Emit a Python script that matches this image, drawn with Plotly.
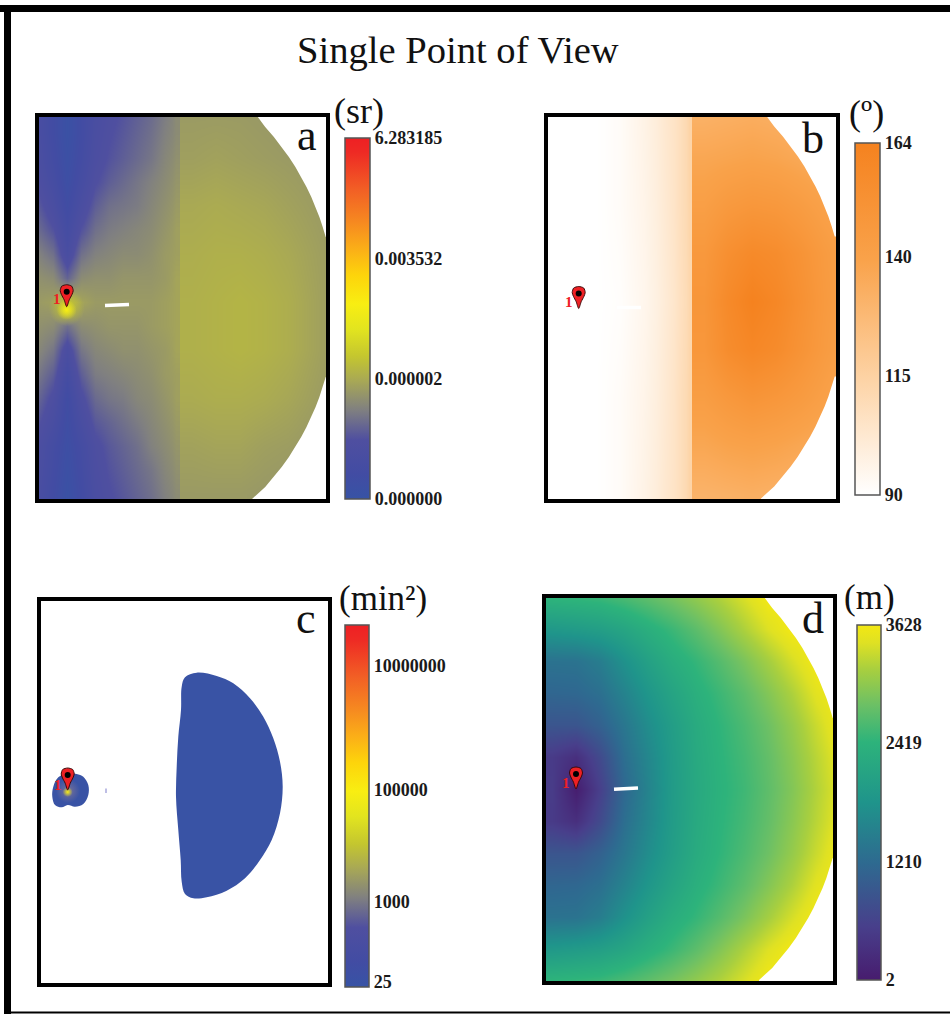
import plotly.graph_objects as go

W, H = 950, 1014
SERIF = "Liberation Serif"

# ---------- data ----------
# a: solid angle, values are % of colour-bar height
a_left_edges = [-7, 7, 21, 35, 49, 63, 77, 91, 105, 119, 133, 141]
a_left_y = [-7, 17, 41, 65, 89, 113, 137, 161, 185, 209, 233, 257, 281, 305, 329, 353, 377, 401]
a_left_z = [
    [12, 7, 2, 7, 12, 15, 17, 19, 21, 24, 27],
    [12, 7, 2, 7, 13, 16, 18, 20, 22, 25, 27],
    [13, 8, 3, 8, 14, 17, 19, 21, 23, 26, 28],
    [15, 10, 4, 10, 16, 19, 21, 23, 25, 27, 29],
    [18, 13, 6, 13, 19, 22, 23, 24, 26, 28, 30],
    [21, 17, 9, 17, 22, 24, 25, 26, 27, 29, 31],
    [25, 22, 12, 22, 25, 26, 27, 27, 28, 30, 31],
    [28, 27, 20, 27, 28, 28, 29, 29, 29, 30, 32],
    [30, 31, 37, 32, 30, 30, 30, 30, 30, 31, 32],
    [28, 27, 22, 27, 28, 29, 29, 29, 30, 31, 32],
    [26, 23, 13, 23, 26, 27, 28, 28, 29, 30, 32],
    [23, 19, 9, 19, 24, 25, 26, 27, 28, 30, 31],
    [20, 15, 6, 15, 21, 23, 24, 26, 27, 29, 31],
    [17, 12, 5, 12, 18, 20, 22, 24, 26, 28, 30],
    [14, 9, 4, 9, 15, 18, 20, 22, 25, 27, 29],
    [13, 8, 3, 8, 14, 17, 19, 21, 23, 26, 28],
    [12, 7, 2, 7, 13, 16, 18, 20, 22, 25, 27],
    [12, 7, 2, 7, 12, 15, 17, 19, 21, 24, 27],
]
a_right_edges = [141, 165, 189, 213, 237, 261, 285, 309]
a_right_y = [-7, 41, 89, 137, 185, 233, 281, 329, 377]
a_right_z = [
    [30, 30, 30, 29.5, 29, 29, 28],
    [31, 31.5, 31, 30.5, 30, 29.5, 29],
    [33, 33.5, 33, 32.5, 31.5, 30.5, 29.5],
    [34, 34.5, 34.5, 34, 33, 31.5, 30],
    [34.5, 35, 35.5, 35, 34, 32, 30],
    [34.5, 35, 35.5, 35, 34, 32, 30],
    [33.5, 34, 34, 33.5, 32.5, 31, 29.5],
    [31.5, 32, 32, 31, 30.5, 29.5, 29],
    [30, 30, 30, 29.5, 29, 29, 28],
]
a_ticks = [0, 33.3, 66.7, 100]
a_ticklabels = ["0.000000", "0.000002", "0.003532", "6.283185"]

# b: angle in degrees
b_left_edges = [-12, 12, 36, 60, 84, 108, 126, 138, 144]
b_left_y = [-7, 89, 185, 281, 389]
b_left_z = [
    [90, 90, 90, 92, 97, 103, 108, 114],
    [90, 90, 90, 92, 96, 102, 108, 113],
    [90, 90, 90, 91, 95, 101, 107, 112],
    [90, 90, 90, 92, 96, 102, 108, 113],
    [90, 90, 90, 92, 97, 103, 108, 114],
]
b_right_edges = [144, 168, 192, 216, 240, 264, 288, 312]
b_right_y = [-7, 41, 89, 137, 185, 233, 281, 329, 377]
b_right_z = [
    [131, 132, 133, 132, 131, 129, 128],
    [137, 138, 139, 138, 136, 134, 132],
    [142, 146, 148, 147, 144, 140, 137],
    [147, 154, 158, 156, 151, 145, 140],
    [149, 158, 164, 160, 153, 146, 141],
    [148, 156, 160, 157, 151, 145, 140],
    [143, 147, 150, 148, 145, 141, 137],
    [137, 139, 140, 139, 137, 135, 132],
    [131, 132, 133, 132, 131, 129, 128],
]
b_ticks = [90, 115, 140, 164]

# c: visible regions outlined
c_big_x = [155.7, 175.7, 192.3, 209, 222.3, 232.3, 239, 241.7, 239, 230.7, 219, 204, 185.7, 165.7, 152.3,
           144, 140.7, 139.7, 137.3, 135, 135.7, 137.3, 140, 140.7, 144, 155.7]
c_big_y = [71.7, 75, 82.3, 97.3, 115.7, 137.3, 160.7, 185.7, 212.3, 239, 259, 277.3, 289.7, 296.3, 297.3,
           293, 280.7, 259, 229, 195.7, 165.7, 135.7, 109, 85.7, 76.3, 71.7]
c_small_x = [27.3, 17.3, 12.3, 11.3, 14, 20.7, 26.7, 34, 42.3, 47.3, 47.3, 42.3, 35.7, 27.3]
c_small_y = [172.3, 176.3, 185.7, 195.7, 204, 206.3, 204, 205.7, 203, 194, 184, 175.7, 173, 172.3]
c_ticks = [1.4, 23.3, 54.3, 88.7]
c_ticklabels = ["25", "1000", "100000", "10000000"]

# d: distance in metres
d_x = [6, 30, 54, 78, 102, 126, 150, 174, 198, 222, 246, 270, 294]
d_y = [-1, 31, 63, 95, 127, 159, 191, 223, 255, 287, 319, 351, 383]
d_z = [
    [2450, 2480, 2520, 2620, 2740, 2880, 3040, 3220, 3420, 3628, 3628, 3628, 3628],
    [1900, 1950, 2020, 2150, 2340, 2520, 2720, 2950, 3200, 3440, 3628, 3628, 3628],
    [1320, 1330, 1480, 1780, 2060, 2300, 2480, 2680, 2900, 3150, 3400, 3628, 3628],
    [1140, 1160, 1280, 1560, 1860, 2120, 2350, 2530, 2720, 2950, 3200, 3480, 3628],
    [880, 880, 1070, 1380, 1710, 2000, 2260, 2450, 2620, 2820, 3060, 3340, 3600],
    [480, 300, 720, 1260, 1620, 1960, 2230, 2420, 2570, 2760, 2990, 3260, 3520],
    [500, 30, 560, 1170, 1570, 1950, 2210, 2400, 2540, 2730, 2950, 3220, 3480],
    [480, 300, 720, 1260, 1620, 1960, 2230, 2420, 2570, 2760, 2990, 3260, 3520],
    [880, 880, 1070, 1380, 1710, 2000, 2260, 2450, 2620, 2820, 3060, 3340, 3600],
    [1140, 1160, 1280, 1560, 1860, 2120, 2350, 2530, 2720, 2950, 3200, 3480, 3628],
    [1320, 1330, 1480, 1780, 2060, 2300, 2480, 2680, 2900, 3150, 3400, 3628, 3628],
    [1900, 1950, 2020, 2150, 2340, 2520, 2720, 2950, 3200, 3440, 3628, 3628, 3628],
    [2450, 2480, 2520, 2620, 2740, 2880, 3040, 3220, 3420, 3628, 3628, 3628, 3628],
]
d_ticks = [2, 1210, 2419, 3628]

# limit of the surveyed disc (white outside it)
edge_top_x = [216.6, 226.2, 234.9, 242.7, 249.9, 256.4, 262.2, 267.5, 272.3, 276.6, 280.4, 283.7, 286.7,
              292, 292, 216.6]
edge_top_y = [-3, 10, 20, 30, 40, 50, 60, 70, 80, 90, 100, 110, 120, 120, -3, -3]
edge_bot_x = [286.7, 283.7, 280.4, 276.6, 272.3, 267.5, 262.2, 256.4, 249.9, 242.7, 234.9, 226.2, 213,
              213, 292, 292, 286.7]
edge_bot_y = [260, 270, 280, 290, 300, 310, 320, 330, 340, 350, 360, 370, 382, 386, 386, 260, 260]

# viewpoint pin outline, relative to its tip
pin_dx = [0, -2.6, -5.2, -6.5, -5, 0, 5, 6.5, 5.2, 2.6, 0]
pin_dy = [0, -7, -12, -16, -20.5, -22, -20.5, -16, -12, -7, 0]

# ---------- styles ----------
SOLID_SCALE = [
    [0, "#3753a5"], [0.07, "#424ca3"], [0.164, "#4f4fa0"], [0.247, "#808080"], [0.33, "#a9a954"],
    [0.395, "#c4c62f"], [0.47, "#e2e41f"], [0.54, "#f8ee12"], [0.62, "#fdd40b"], [0.69, "#fbb017"],
    [0.765, "#f68a20"], [0.857, "#f25f25"], [0.96, "#ee2a24"], [1, "#ee2024"],
]
ORANGE_SCALE = [[0, "#ffffff"], [0.33, "#fdd3a5"], [0.67, "#f9a24a"], [1, "#f5821f"]]
VIRIDIS_SCALE = [
    [0, "#471c6e"], [0.15, "#483f8b"], [0.33, "#2e6a90"], [0.5, "#1f948b"], [0.67, "#2db37b"],
    [0.775, "#6cc065"], [0.875, "#a8cf3f"], [0.95, "#dfe123"], [1, "#f3e813"],
]

# panel: inner x0, x1, y0, y1 ; bar: x0, x1, y0, y1 (pixels)
PANELS = {
    "a": dict(box=(39, 326, 117, 499), bar=(344.5, 369, 138.5, 499), ax=""),
    "b": dict(box=(548, 836, 116.5, 499), bar=(854.5, 879, 143.5, 495), ax="2"),
    "c": dict(box=(41, 328, 601, 983), bar=(344.5, 368.5, 624.5, 986.5), ax="3"),
    "d": dict(box=(546, 833, 598, 981), bar=(856.5, 880, 624.5, 979.5), ax="4"),
}


def px(x):
    return x / W


def py(y):
    return 1 - y / H


def colorbar(panel, ticks, labels):
    x0, x1, y0, y1 = PANELS[panel]["bar"]
    return dict(
        x=px(x0), xanchor="left", xpad=0, y=py(y1), yanchor="bottom", ypad=0,
        len=(y1 - y0) / H, lenmode="fraction", thickness=x1 - x0, thicknessmode="pixels",
        outlinecolor="#555555", outlinewidth=1.5, borderwidth=0, ticks="",
        tickmode="array", tickvals=ticks, ticktext=labels, ticklabelposition="outside",
        tickfont=dict(family=SERIF, size=18, color="#1a1a1a", weight="bold"),
    )


fig = go.Figure()


def refs(panel):
    s = PANELS[panel]["ax"]
    return dict(xaxis="x" + s, yaxis="y" + s)


def heat(panel, x, y, z, scale, zmin, zmax, bar=None):
    fig.add_trace(go.Heatmap(x=x, y=y, z=z, colorscale=scale, zmin=zmin, zmax=zmax, zsmooth="best",
                             showscale=bar is not None, colorbar=bar, hoverinfo="skip", **refs(panel)))


def region(panel, x, y, color, shape="linear"):
    fig.add_trace(go.Scatter(x=x, y=y, mode="lines", fill="toself", fillcolor=color,
                             line=dict(width=0, color=color, shape=shape), showlegend=False,
                             hoverinfo="skip", **refs(panel)))


def dash(panel, x, y, color="white", width=3.5):
    fig.add_trace(go.Scatter(x=x, y=y, mode="lines", line=dict(color=color, width=width),
                             showlegend=False, hoverinfo="skip", **refs(panel)))


def glow(panel, x, y, size, rgb, alpha=1):
    fig.add_trace(go.Scatter(x=[x], y=[y], mode="markers", showlegend=False, hoverinfo="skip",
                             marker=dict(size=size, color=f"rgba({rgb},0)", line=dict(width=0),
                                         gradient=dict(type="radial", color=f"rgba({rgb},{alpha})")),
                             **refs(panel)))


def pin(panel, x, y):
    fig.add_trace(go.Scatter(x=[x + d for d in pin_dx], y=[y + d for d in pin_dy], mode="lines",
                             fill="toself", fillcolor="#ee2024",
                             line=dict(color="#3a0a0a", width=1, shape="spline", smoothing=0.7),
                             showlegend=False, hoverinfo="skip", **refs(panel)))
    fig.add_trace(go.Scatter(x=[x], y=[y - 15], mode="markers", showlegend=False, hoverinfo="skip",
                             marker=dict(size=6, color="black", line=dict(width=0)), **refs(panel)))


# panel a
heat("a", a_left_edges, a_left_y, a_left_z, SOLID_SCALE, 0, 100)
heat("a", a_right_edges, a_right_y, a_right_z, SOLID_SCALE, 0, 100, colorbar("a", a_ticks, a_ticklabels))
glow("a", 27.7, 191, 36, "196,198,47", 0.9)
glow("a", 27.7, 193, 20, "247,238,20")
for p in "abd":
    region(p, edge_top_x, edge_top_y, "white")
    region(p, edge_bot_x, edge_bot_y, "white")
dash("a", [66, 90], [188.5, 187.5])
pin("a", 27.7, 189.7)

# panel b
heat("b", b_left_edges, b_left_y, b_left_z, ORANGE_SCALE, 90, 164)
heat("b", b_right_edges, b_right_y, b_right_z, ORANGE_SCALE, 90, 164,
     colorbar("b", b_ticks, [str(t) for t in b_ticks]))
dash("b", [69, 93], [191, 191])
pin("b", 30.7, 192)

# panel c
region("c", c_big_x, c_big_y, "#3953a5", shape="spline")
region("c", c_small_x, c_small_y, "#3953a5", shape="spline")
glow("c", 27, 190, 24, "128,118,150", 0.9)
glow("c", 26.7, 191, 10, "247,238,20")
dash("c", [65, 65], [187.5, 192], color="#a8a8dc", width=1.5)
pin("c", 26.7, 189)
fig.add_trace(go.Scatter(x=[None], y=[None], mode="markers", showlegend=False, hoverinfo="skip",
                         marker=dict(color=[0], cmin=0, cmax=100, colorscale=SOLID_SCALE, showscale=True,
                                     colorbar=colorbar("c", c_ticks, c_ticklabels)), **refs("c")))

# panel d
heat("d", d_x, d_y, d_z, VIRIDIS_SCALE, 2, 3628, colorbar("d", d_ticks, [str(t) for t in d_ticks]))
dash("d", [68, 92], [191.3, 190])
pin("d", 30, 191)

# axes as black frames
for name, p in PANELS.items():
    x0, x1, y0, y1 = p["box"]
    common = dict(showticklabels=False, ticks="", showgrid=False, zeroline=False, showline=True,
                  linecolor="black", linewidth=4, mirror=True, fixedrange=True)
    s = p["ax"]
    fig.update_layout({
        "xaxis" + s: dict(domain=[px(x0), px(x1)], range=[0, x1 - x0], anchor="y" + s, **common),
        "yaxis" + s: dict(domain=[py(y1), py(y0)], range=[y1 - y0, 0], anchor="x" + s, **common),
    })

texts = [
    ("Single Point of View", 457.5, 50, 38.6, "#111111", "normal"),
    ("a", 307, 135, 44, "#111111", "normal"),
    ("b", 812.7, 138, 44, "#111111", "normal"),
    ("c", 305.7, 618, 44, "#111111", "normal"),
    ("d", 813, 618, 44, "#111111", "normal"),
    ("(sr)", 358.5, 111, 36, "#111111", "normal"),
    ("(º)", 866.7, 113, 36, "#111111", "normal"),
    ("(min²)", 383, 598, 35, "#111111", "normal"),
    ("(m)", 869, 597, 35, "#111111", "normal"),
    ("1", 57, 299, 15, "#ee2024", "bold"),
    ("1", 568.7, 301.7, 15, "#ee2024", "bold"),
    ("1", 57.7, 785, 15, "#ee2024", "bold"),
    ("1", 566, 783, 15, "#ee2024", "bold"),
]
annotations = [
    dict(text=t, x=px(x), y=py(y), xref="paper", yref="paper", xanchor="center", yanchor="middle",
         showarrow=False, font=dict(family=SERIF, size=size, color=color, weight=weight))
    for t, x, y, size, color, weight in texts
]

# black outer border of the figure
shapes = [
    dict(type="rect", xref="paper", yref="paper", x0=0, x1=1, y0=py(12), y1=py(5),
         fillcolor="black", line=dict(width=0)),
    dict(type="rect", xref="paper", yref="paper", x0=px(4), x1=px(11), y0=0, y1=py(5),
         fillcolor="black", line=dict(width=0)),
    dict(type="rect", xref="paper", yref="paper", x0=px(4), x1=1, y0=py(1013.5), y1=py(1011.5),
         fillcolor="black", line=dict(width=0)),
]

fig.update_layout(width=W, height=H, margin=dict(l=0, r=0, t=0, b=0, pad=0), autosize=False,
                  paper_bgcolor="white", plot_bgcolor="white", showlegend=False,
                  annotations=annotations, shapes=shapes)

fig.write_html("out.html", config=dict(displayModeBar=False),
               post_script="document.body.style.margin='0';document.body.style.overflow='hidden';")
